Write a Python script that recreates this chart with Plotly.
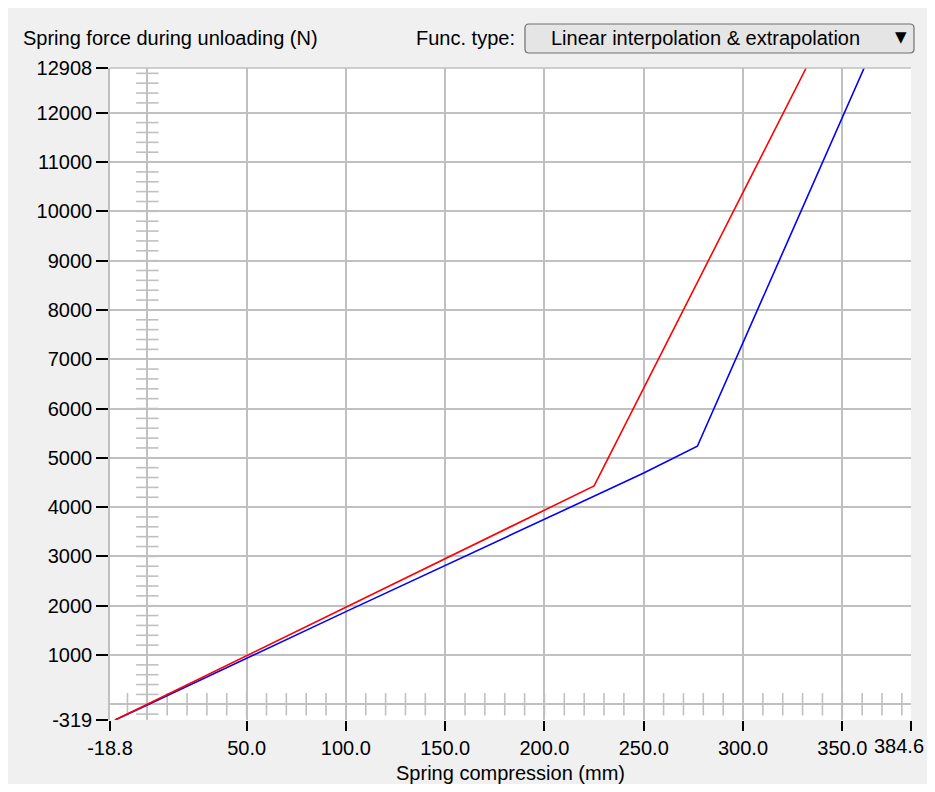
import plotly.graph_objects as go

# ---- data ----
red_x = [-16.3, 0.0, 225.0, 331.8]
red_y = [-319, 0, 4430, 12908]

blue_x = [-16.3, 0.0, 100.0, 167.5, 218.0, 250.0, 277.0, 361.0]
blue_y = [-319, -15, 1880, 3150, 4085, 4690, 5235, 12908]

x_tick_vals = [-18.8, 50.0, 100.0, 150.0, 200.0, 250.0, 300.0, 350.0, 384.6]
x_tick_text = ["-18.8", "50.0", "100.0", "150.0", "200.0", "250.0", "300.0", "350.0", "384.6"]
y_tick_vals = [-319, 1000, 2000, 3000, 4000, 5000, 6000, 7000, 8000, 9000, 10000, 11000, 12000, 12908]
y_tick_text = ["-319", "1000", "2000", "3000", "4000", "5000", "6000", "7000", "8000",
               "9000", "10000", "11000", "12000", "12908"]

x_range = [-18.8, 384.6]
y_range = [-319, 12908]

# minor tick marks drawn on the zero lines
x_minor_step = 10
y_minor_step = 200

title_text = "Spring force during unloading (N)"
func_label = "Func. type:"
func_value = "Linear interpolation & extrapolation"
x_title = "Spring compression (mm)"

# ---- layout geometry (page pixels; the page body has an 8px margin) ----
OFF = 8
W, H = 935 - 2 * OFF, 792 - 2 * OFF
L, R, T, B = 110, 911, 68, 720          # plot area in page coordinates
PW, PH = R - L, B - T


def px(x):
    return (x - L) / PW


def py(y):
    return (B - y) / PH


FONT = "Liberation Sans, Arial, sans-serif"
FS = 20
GRID = "#C0C0C0"

fig = go.Figure()

# minor dashes along the zero lines
xm = [v for v in range(-10, 385, x_minor_step) if v != 0]
ym = [v for v in range(-200, 12909, y_minor_step) if v != 0]
fig.add_trace(go.Scatter(
    x=xm, y=[0] * len(xm), mode="markers", hoverinfo="skip", showlegend=False,
    marker=dict(symbol="line-ns", size=16, line=dict(color=GRID, width=1.6))))
fig.add_trace(go.Scatter(
    x=[0] * len(ym), y=ym, mode="markers", hoverinfo="skip", showlegend=False,
    marker=dict(symbol="line-ew", size=16, line=dict(color=GRID, width=1.6))))

fig.add_trace(go.Scatter(x=blue_x, y=blue_y, mode="lines", showlegend=False,
                         line=dict(color="#0000FF", width=1.6)))
fig.add_trace(go.Scatter(x=red_x, y=red_y, mode="lines", showlegend=False,
                         line=dict(color="#FF0000", width=1.6)))

# the last x label sits against the right edge, so it is placed as right-aligned text
x_axis_text = x_tick_text[:-1] + [""]

fig.update_xaxes(
    range=x_range, tickmode="array", tickvals=x_tick_vals, ticktext=x_axis_text,
    showgrid=True, gridcolor=GRID, gridwidth=1.6,
    zeroline=True, zerolinecolor=GRID, zerolinewidth=1.6,
    showline=False, ticks="outside", ticklen=10, tickwidth=1.5, tickcolor="black",
    tickfont=dict(family=FONT, size=FS, color="black"),
    ticklabeloverflow="allow",
    title=dict(text=x_title, font=dict(family=FONT, size=FS, color="black"), standoff=13),
    automargin=False, fixedrange=True,
)
fig.update_yaxes(
    range=y_range, tickmode="array", tickvals=y_tick_vals, ticktext=y_tick_text,
    showgrid=True, gridcolor=GRID, gridwidth=1.6,
    zeroline=True, zerolinecolor=GRID, zerolinewidth=1.6,
    showline=True, linecolor=GRID, linewidth=1.6,
    ticks="outside", ticklen=12, tickwidth=1.5, tickcolor="black",
    tickfont=dict(family=FONT, size=FS, color="black"),
    ticklabeloverflow="allow",
    automargin=False, fixedrange=True,
)

# rounded dropdown box (page pixels -> paper)
bx0, bx1, by0, by1, rr = 525, 914, 24, 53, 4
rx, ry = rr / PW, rr / PH
X0, X1, Y0, Y1 = px(bx0), px(bx1), py(by1), py(by0)
box_path = (
    f"M {X0 + rx},{Y0} L {X1 - rx},{Y0} Q {X1},{Y0} {X1},{Y0 + ry} "
    f"L {X1},{Y1 - ry} Q {X1},{Y1} {X1 - rx},{Y1} "
    f"L {X0 + rx},{Y1} Q {X0},{Y1} {X0},{Y1 - ry} "
    f"L {X0},{Y0 + ry} Q {X0},{Y0} {X0 + rx},{Y0} Z"
)

shapes = [
    # top border
    dict(type="line", xref="paper", yref="paper", x0=0, x1=1, y0=1, y1=1,
         line=dict(color=GRID, width=1.6)),
    # dropdown box
    dict(type="path", xref="paper", yref="paper", path=box_path,
         fillcolor="#E5E5E5", line=dict(color="#707070", width=1.2), layer="above"),
]

annotations = [
    dict(text=title_text, xref="paper", yref="paper", x=px(21), y=py(38),
         xanchor="left", yanchor="middle", showarrow=False,
         font=dict(family=FONT, size=FS, color="black")),
    dict(text=func_label, xref="paper", yref="paper", x=px(517), y=py(38),
         xanchor="right", yanchor="middle", showarrow=False,
         font=dict(family=FONT, size=FS, color="black")),
    dict(text=func_value, xref="paper", yref="paper", x=px(549), y=py(38),
         xanchor="left", yanchor="middle", showarrow=False,
         font=dict(family=FONT, size=FS, color="black")),
    dict(text="▼", xref="paper", yref="paper", x=px(901), y=py(37),
         xanchor="center", yanchor="middle", showarrow=False,
         font=dict(family="DejaVu Sans, sans-serif", size=15, color="black")),
    # last x tick label, kept inside the figure
    dict(text=x_tick_text[-1], xref="paper", yref="paper", x=px(926), y=py(746),
         xanchor="right", yanchor="middle", showarrow=False,
         font=dict(family=FONT, size=FS, color="black")),
]

fig.update_layout(
    width=W, height=H,
    margin=dict(l=L - OFF, r=W - (R - OFF), t=T - OFF, b=H - (B - OFF), pad=0, autoexpand=False),
    paper_bgcolor="#F0F0F0", plot_bgcolor="white",
    font=dict(family=FONT, size=FS, color="black"),
    shapes=shapes, annotations=annotations,
    showlegend=False, hovermode=False,
)

fig.write_html("out.html", config={"displayModeBar": False})
